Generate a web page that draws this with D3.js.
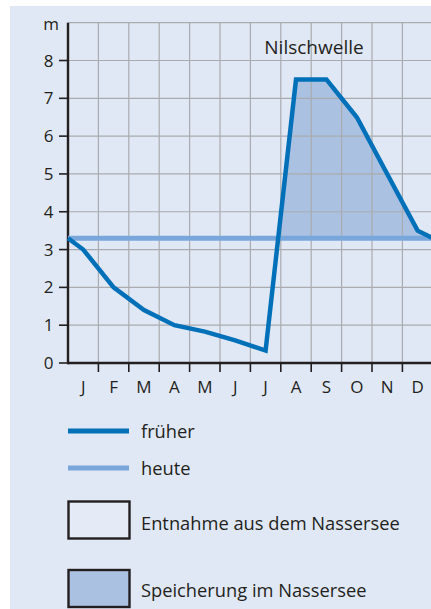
<!DOCTYPE html>
<html>
<head>
  <meta charset="utf-8">
  <script src="https://d3js.org/d3.v7.min.js"></script>
  <style>
    body { margin: 0; background: #fff; }
    svg { display: block; font-family: 'Open Sans', sans-serif; }
  </style>
</head>
<body>
<script>
// data
var months = ["J", "F", "M", "A", "M", "J", "J", "A", "S", "O", "N", "D"];
var yTicks = [0, 1, 2, 3, 4, 5, 6, 7, 8];
// position in months (0 = start of Jan) and water level in m
var frueherT = [0, 0.5, 1.5, 2.5, 3.5, 4.5, 5.5, 6.5, 7.5, 8.5, 9.5, 10.5, 11.5, 12];
var frueherM = [3.3, 3.0, 2.0, 1.4, 1.0, 0.83, 0.6, 0.33, 7.5, 7.5, 6.5, 5.0, 3.5, 3.3];
var heuteM = 3.3;
var legendItems = ["früher", "heute", "Entnahme aus dem Nassersee", "Speicherung im Nassersee"];

var W = 431, H = 609;
var svg = d3.select("body").append("svg").attr("width", W).attr("height", H);

// panel
svg.append("rect").attr("x", 10).attr("y", 6).attr("width", W - 10).attr("height", H - 6)
  .attr("fill", "#e1e8f5");

var x = d3.scaleLinear().domain([0, 12]).range([68, 68 + 12 * 30.4]);
var y = d3.scaleLinear().domain([0, 9]).range([363, 22.7]);

var pts = frueherT.map(function(t, i) { return [t, frueherM[i]]; });

// storage area (früher above heute)
svg.append("clipPath").attr("id", "above")
  .append("rect").attr("x", 0).attr("y", 0).attr("width", W).attr("height", y(heuteM));

svg.append("path")
  .datum(pts)
  .attr("clip-path", "url(#above)")
  .attr("fill", "#aac1e2")
  .attr("d", d3.area().x(function(d) { return x(d[0]); })
    .y0(y(heuteM)).y1(function(d) { return y(d[1]); }));

// grid
var grid = svg.append("g").attr("stroke", "#a9abae").attr("stroke-width", 1.2);
d3.range(1, 13).forEach(function(t) {
  grid.append("line").attr("x1", x(t)).attr("x2", x(t)).attr("y1", y(9)).attr("y2", y(0));
});
d3.range(1, 10).forEach(function(v) {
  grid.append("line").attr("x1", x(0)).attr("x2", W).attr("y1", y(v)).attr("y2", y(v));
});

// axes
var ax = svg.append("g").attr("stroke", "#231f20").attr("stroke-width", 2.4);
ax.append("line").attr("x1", x(0)).attr("x2", x(0)).attr("y1", y(9)).attr("y2", y(0) + 1.2);
ax.append("line").attr("x1", x(0)).attr("x2", W).attr("y1", y(0)).attr("y2", y(0));
yTicks.forEach(function(v) {
  ax.append("line").attr("x1", x(0) - 9).attr("x2", x(0)).attr("y1", y(v)).attr("y2", y(v))
    .attr("stroke-width", 1.6);
});
d3.range(1, 13).forEach(function(t) {
  ax.append("line").attr("x1", x(t)).attr("x2", x(t)).attr("y1", y(0)).attr("y2", y(0) + 9)
    .attr("stroke-width", 1.6);
});

var txt = svg.append("g").attr("fill", "#231f20").attr("font-size", 17);
yTicks.forEach(function(v) {
  txt.append("text").attr("x", 53.5).attr("y", y(v)).attr("dy", "0.36em")
    .attr("text-anchor", "end").text(v);
});
txt.append("text").attr("x", 59).attr("y", y(9)).attr("dy", "0.42em")
  .attr("text-anchor", "end").text("m");
months.forEach(function(m, i) {
  txt.append("text").attr("x", x(i + 0.5)).attr("y", 393)
    .attr("text-anchor", "middle").text(m);
});
txt.append("text").attr("x", 314).attr("y", 54).attr("font-size", 19)
  .attr("text-anchor", "middle").text("Nilschwelle");

// lines
svg.append("line").attr("x1", x(0)).attr("x2", W).attr("y1", y(heuteM)).attr("y2", y(heuteM))
  .attr("stroke", "#79a7dc").attr("stroke-width", 5);

svg.append("path")
  .datum(pts)
  .attr("fill", "none")
  .attr("stroke", "#0071b9")
  .attr("stroke-width", 4.5)
  .attr("stroke-linejoin", "miter")
  .attr("d", d3.line().x(function(d) { return x(d[0]); }).y(function(d) { return y(d[1]); }));

// legend
var lg = svg.append("g");
lg.append("line").attr("x1", 68).attr("x2", 129).attr("y1", 431).attr("y2", 431)
  .attr("stroke", "#0071b9").attr("stroke-width", 5);
lg.append("line").attr("x1", 68).attr("x2", 129).attr("y1", 468).attr("y2", 468)
  .attr("stroke", "#79a7dc").attr("stroke-width", 5);
lg.append("rect").attr("x", 68.5).attr("y", 501.5).attr("width", 61).attr("height", 37)
  .attr("fill", "#e4eaf6").attr("stroke", "#231f20").attr("stroke-width", 2.4);
lg.append("rect").attr("x", 68.5).attr("y", 570).attr("width", 61).attr("height", 37)
  .attr("fill", "#aac1e2").attr("stroke", "#231f20").attr("stroke-width", 2.4);

var ly = [437.5, 474.5, 529.5, 597];
legendItems.forEach(function(s, i) {
  txt.append("text").attr("x", 141).attr("y", ly[i]).attr("font-size", 18.3).text(s);
});
</script>
</body>
</html>
